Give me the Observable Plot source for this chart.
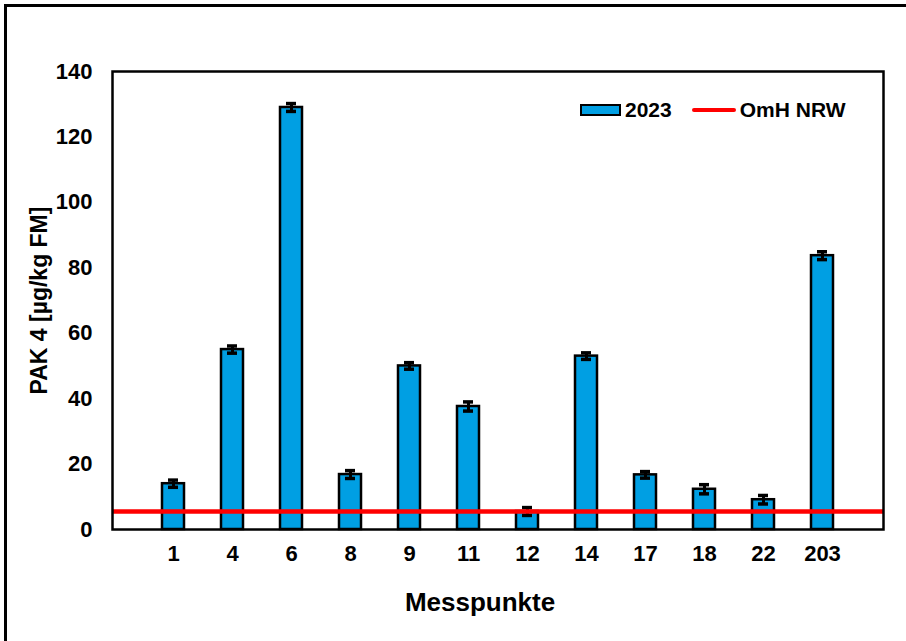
<!DOCTYPE html>
<html>
<head>
<meta charset="utf-8">
<script src="https://cdn.jsdelivr.net/npm/d3@7"></script>
<script src="https://cdn.jsdelivr.net/npm/@observablehq/plot@0.6"></script>
<style>
  html, body { margin: 0; padding: 0; background: #fff; }
  #wrap { position: relative; width: 906px; height: 641px; overflow: hidden; background: #fff;
          font-family: "Liberation Sans", Arial, sans-serif; font-weight: bold; }
  #border { position: absolute; left: 4px; top: 4px; width: 1000px; height: 1000px; border: 3px solid #000; box-sizing: border-box; }
  #chart { position: absolute; left: 0; top: 0; }
  #legend { position: absolute; left: 580px; top: 98px; display: flex; align-items: center; font-size: 21px; line-height: 24px; color: #000; }
  .sw-bar { width: 37px; height: 8px; background: #009FE3; border: 2.5px solid #000; margin-right: 4px; }
  .sw-line { width: 44px; height: 4.5px; background: #FF0000; margin-left: 20px; margin-right: 4px; border-radius: 2px; }
</style>
</head>
<body>
<div id="wrap">
  <div id="border"></div>
  <div id="chart"></div>
  <div id="legend"><span class="sw-bar"></span><span>2023</span><span class="sw-line"></span><span>OmH NRW</span></div>
</div>
<script>
const messpunkte = ["1", "4", "6", "8", "9", "11", "12", "14", "17", "18", "22", "203"];
const pak4_2023 = [14.0, 55.0, 129.0, 16.8, 50.0, 37.6, 5.5, 53.0, 16.7, 12.3, 9.1, 83.7];
const fehler = [1.1, 1.1, 1.2, 1.2, 1.0, 1.4, 1.2, 1.0, 1.0, 1.4, 1.3, 1.2];
const omhNRW = 5.5;
const yTicks = [0, 20, 40, 60, 80, 100, 120, 140];

const data = messpunkte.map((m, i) => ({ m, v: pak4_2023[i], e: fehler[i] }));

const font = '"Liberation Sans", Arial, sans-serif';

const chart = Plot.plot({
  width: 906,
  height: 641,
  marginLeft: 112,
  marginRight: 23,
  marginTop: 71,
  marginBottom: 112,
  style: { fontFamily: font, fontSize: "22px", fontWeight: "bold", color: "#000", background: "transparent" },
  x: { domain: messpunkte, paddingInner: 0.63, paddingOuter: 0.815, label: null },
  y: { domain: [0, 140], ticks: yTicks, label: null },
  marks: [
    Plot.barY(data, { x: "m", y: "v", fill: "#009FE3", stroke: "#000", strokeWidth: 2.5 }),
    Plot.ruleX(data, { x: "m", y1: d => d.v - d.e, y2: d => d.v + d.e, stroke: "#000", strokeWidth: 3 }),
    Plot.tickY(data, { x: "m", y: d => d.v + d.e, stroke: "#000", strokeWidth: 3.5, insetLeft: 6, insetRight: 6 }),
    Plot.tickY(data, { x: "m", y: d => d.v - d.e, stroke: "#000", strokeWidth: 3.5, insetLeft: 6, insetRight: 6 }),
    Plot.ruleY([omhNRW], { stroke: "#FF0000", strokeWidth: 4.5 }),
    Plot.frame({ stroke: "#000", strokeWidth: 2.5 }),
    Plot.axisY({ ticks: yTicks, tickSize: 0, tickPadding: 20, label: null, fontSize: 22 }),
    Plot.axisX({ tickSize: 0, tickPadding: 16, label: null, fontSize: 22 }),
    Plot.text(["PAK 4 [µg/kg FM]"], { frameAnchor: "left", dx: -73, rotate: -90, textAnchor: "middle", fontSize: 23, fontWeight: "bold", fill: "#000" }),
    Plot.text(["Messpunkte"], { frameAnchor: "bottom", dx: -18, dy: 81, textAnchor: "middle", fontSize: 26, fontWeight: "bold", fill: "#000" })
  ]
});
document.getElementById("chart").appendChild(chart);
</script>
</body>
</html>
